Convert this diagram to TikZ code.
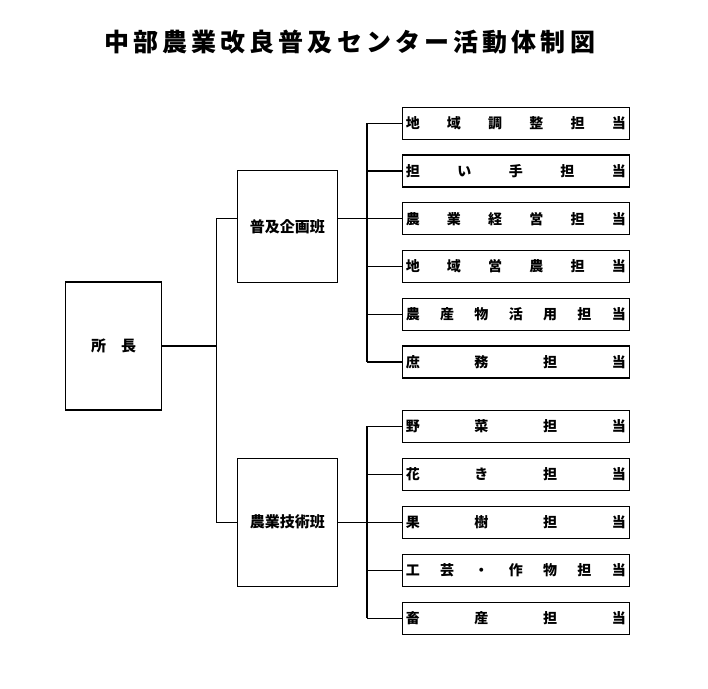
\documentclass[tikz,border=0pt]{standalone}
\usepackage{fontspec}
\newfontfamily\jp{Noto Sans CJK JP}
\newfontfamily\jptitle{Noto Sans CJK JP}[LetterSpace=16.5]
\begin{document}
\begin{tikzpicture}[x=1pt,y=-1pt,line width=1.2pt,
  box/.style={draw,inner sep=0pt,font=\jp\bfseries\fontsize{15}{16}\selectfont},
  tanto/.style={draw,inner sep=0pt,minimum width=227pt,minimum height=32pt,
    font=\jp\bfseries\fontsize{14}{15}\selectfont}]
\useasboundingbox (0,0) rectangle (708,688);
\node[anchor=west,inner sep=0pt,font=\jptitle\bfseries\fontsize{25}{27}\selectfont] (title) at (103.5,42) {中部農業改良普及センター活動体制図};
\node[box,minimum width=96pt,minimum height=128pt] (shocho) at (113.5,346) {所　長};
\node[box,minimum width=100pt,minimum height=112pt] (fukyu) at (287.3,226.3) {普及企画班};
\node[box,minimum width=100pt,minimum height=128pt] (gijutsu) at (287.3,522.2) {農業技術班};
\foreach \txt [count=\i] in {
  地\hfill 域\hfill 調\hfill 整\hfill 担\hfill 当,
  担\hfill い\hfill 手\hfill 担\hfill 当,
  農\hfill 業\hfill 経\hfill 営\hfill 担\hfill 当,
  地\hfill 域\hfill 営\hfill 農\hfill 担\hfill 当,
  農\hfill 産\hfill 物\hfill 活\hfill 用\hfill 担\hfill 当,
  庶\hfill 務\hfill 担\hfill 当}
  \node[tanto] (a\i) at (515.8,{123.3+47.75*(\i-1)}) {\makebox[220pt][s]{\txt}};
\foreach \txt [count=\i] in {
  野\hfill 菜\hfill 担\hfill 当,
  花\hfill き\hfill 担\hfill 当,
  果\hfill 樹\hfill 担\hfill 当,
  工\hfill 芸\hfill ・\hfill 作\hfill 物\hfill 担\hfill 当,
  畜\hfill 産\hfill 担\hfill 当}
  \node[tanto] (b\i) at (515.8,{426.2+48*(\i-1)}) {\makebox[220pt][s]{\txt}};
% trunk from the director
\coordinate (ta) at (216.3,218.3);
\coordinate (tb) at (216.3,522.2);
\draw (ta) -- (tb);
\draw (shocho.east) -- (shocho.east -| ta);
\draw (ta) -- (ta -| fukyu.west);
\draw (tb) -- (tb -| gijutsu.west);
% branches to the staff
\coordinate (r) at (367,0);
\draw (a1.west -| r) -- (a6.west -| r);
\draw (b1.west -| r) -- (b5.west -| r);
\draw (fukyu.east |- a3.west) -- (a3.west -| r);
\draw (gijutsu.east) -- (gijutsu.east -| r);
\foreach \i in {1,...,6} \draw (a\i.west -| r) -- (a\i.west);
\foreach \i in {1,...,5} \draw (b\i.west -| r) -- (b\i.west);
\end{tikzpicture}
\end{document}
